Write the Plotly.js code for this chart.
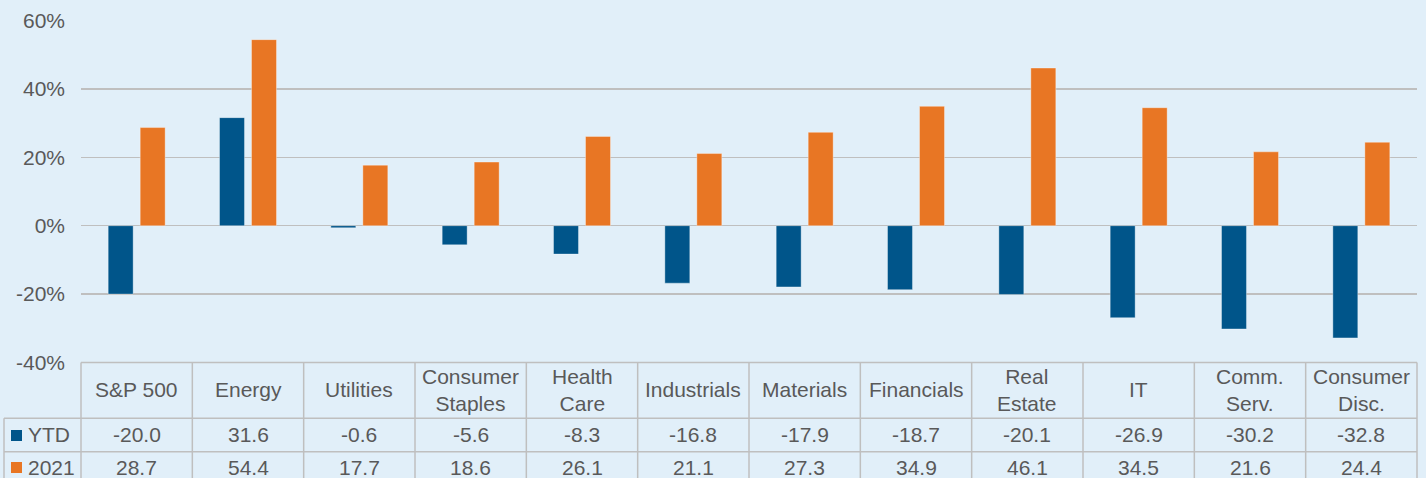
<!DOCTYPE html>
<html>
<head>
<meta charset="utf-8">
<script src="https://cdn.plot.ly/plotly-3.0.1.min.js"></script>
<style>html,body{margin:0;padding:0;background:#e1eff9;}#chart{width:1426px;height:478px;}</style>
</head>
<body>
<div id="chart"></div>
<script>
const categories = ["S&P 500","Energy","Utilities","Consumer Staples","Health Care","Industrials","Materials","Financials","Real Estate","IT","Comm. Serv.","Consumer Disc."];
const headerLabels = ["S&P 500","Energy","Utilities","Consumer<br>Staples","Health<br>Care","Industrials","Materials","Financials","Real<br>Estate","IT","Comm.<br>Serv.","Consumer<br>Disc."];
const ytd = [-20.0, 31.6, -0.6, -5.6, -8.3, -16.8, -17.9, -18.7, -20.1, -26.9, -30.2, -32.8];
const y2021 = [28.7, 54.4, 17.7, 18.6, 26.1, 21.1, 27.3, 34.9, 46.1, 34.5, 21.6, 24.4];
const seriesNames = ["YTD","2021"];
const yTicks = [-40,-20,0,20,40,60];

const W = 1426, H = 478;
const PL = 81, PR = 1417;
const BLUE = "#00558a", ORANGE = "#e87624", TXT = "#595959", GRID = "#bfbfbf", BG = "#e1eff9";
const FONT = "Liberation Sans, Arial, sans-serif";
const py = y => 1 - y / H;           // pixel row -> paper
const px = x => (x - PL) / (PR - PL); // pixel col -> paper

const traces = [
  {type:"bar", name:seriesNames[0], x:categories, y:ytd, marker:{color:BLUE, line:{color:"rgba(255,255,255,0.35)", width:1}}},
  {type:"bar", name:seriesNames[1], x:categories, y:y2021, marker:{color:ORANGE, line:{color:"rgba(255,255,255,0.35)", width:1}}}
];

const shapes = [];
const annotations = [];
const lineStyle = {color:GRID, width:1.5};
// table horizontal lines
shapes.push({type:"line", xref:"paper", yref:"paper", x0:0, x1:1, y0:py(362.5), y1:py(362.5), line:lineStyle});
shapes.push({type:"line", xref:"paper", yref:"paper", x0:px(4), x1:1, y0:py(418.3), y1:py(418.3), line:lineStyle});
shapes.push({type:"line", xref:"paper", yref:"paper", x0:px(4), x1:1, y0:py(451.7), y1:py(451.7), line:lineStyle});
// vertical lines
shapes.push({type:"line", xref:"paper", yref:"paper", x0:px(4), x1:px(4), y0:py(418.3), y1:0, line:lineStyle});
for (let i = 0; i <= categories.length; i++) {
  const xp = i / categories.length;
  shapes.push({type:"line", xref:"paper", yref:"paper", x0:xp, x1:xp, y0:py(362.5), y1:0, line:lineStyle});
}
// legend squares
const sqColors = [BLUE, ORANGE];
const rowCenters = [434, 467];
const sqCenters = [435.5, 467.5];
sqColors.forEach((c, k) => {
  shapes.push({type:"rect", xref:"paper", yref:"paper", x0:px(11), x1:px(22), y0:py(sqCenters[k]-5.5), y1:py(sqCenters[k]+5.5), fillcolor:c, line:{width:0}});
  annotations.push({xref:"paper", yref:"paper", x:px(26), y:py(rowCenters[k]), xanchor:"left", yanchor:"middle", text:seriesNames[k], showarrow:false, font:{family:FONT, size:21, color:TXT}});
});
// header + values
categories.forEach((c, i) => {
  annotations.push({xref:"x", yref:"paper", x:c, y:py(389.5), yanchor:"middle", text:headerLabels[i], showarrow:false, font:{family:FONT, size:21, color:TXT}});
  annotations.push({xref:"x", yref:"paper", x:c, y:py(rowCenters[0]), yanchor:"middle", text:ytd[i].toFixed(1), showarrow:false, font:{family:FONT, size:21, color:TXT}});
  annotations.push({xref:"x", yref:"paper", x:c, y:py(rowCenters[1]), yanchor:"middle", text:y2021[i].toFixed(1), showarrow:false, font:{family:FONT, size:21, color:TXT}});
});

const layout = {
  width:W, height:H,
  margin:{l:PL, r:W-PR, t:0, b:0, pad:0},
  paper_bgcolor:BG, plot_bgcolor:BG,
  showlegend:false,
  barmode:"group", bargap:0.425, bargroupgap:0.22,
  font:{family:FONT, size:21, color:TXT},
  xaxis:{type:"category", range:[-0.5, categories.length-0.5], showticklabels:false, showgrid:false, zeroline:false, showline:false, fixedrange:true},
  yaxis:{domain:[py(362.5), py(20.5)], range:[-40,60], tickvals:yTicks, ticktext:yTicks.map(v=>v+"%"), ticks:"", ticklabelstandoff:15,
         showgrid:true, gridcolor:GRID, gridwidth:1.5, zeroline:false, showline:false, fixedrange:true,
         tickfont:{family:FONT, size:21, color:TXT}},
  shapes:shapes,
  annotations:annotations,
  hovermode:false
};

Plotly.newPlot("chart", traces, layout, {displayModeBar:false, staticPlot:true});
</script>
</body>
</html>
